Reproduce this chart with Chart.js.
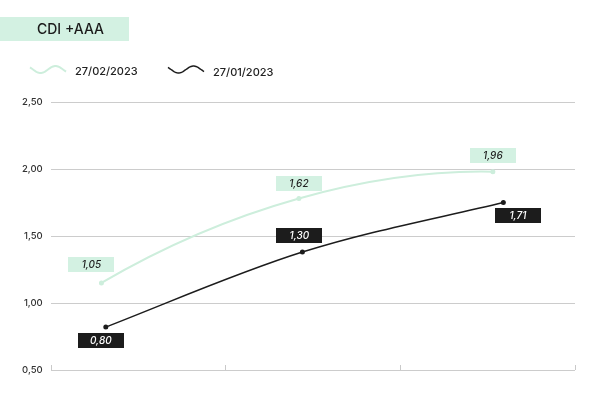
<!DOCTYPE html>
<html>
<head>
<meta charset="utf-8">
<script src="https://cdn.jsdelivr.net/npm/chart.js@4.4.0/dist/chart.umd.min.js"></script>
<style>
  html, body { margin: 0; padding: 0; background: #fff; }
  #wrap { width: 591px; height: 394px; }
</style>
</head>
<body>
<div id="wrap"><canvas id="chart" width="591" height="394"></canvas></div>
<script>
// Chart data
const chartTitle = 'CDI +AAA';
const seriesNames = ['27/02/2023', '27/01/2023'];

const febX = [0.29, 1.42, 2.53];
const febY = [1.15, 1.78, 1.98];
const febLabels = ['1,05', '1,62', '1,96'];

const janX = [0.315, 1.44, 2.59];
const janY = [0.82, 1.38, 1.75];
const janLabels = ['0,80', '1,30', '1,71'];

const yTicks = [0.5, 1, 1.5, 2, 2.5];
const yTickLabels = ['0,50', '1,00', '1,50', '2,00', '2,50'];

// styling
const MINT = '#d3f1e2';
const MINT_LINE = '#cdeedc';
const INK = '#1c1c1c';
const FONT = 'Inter, "Liberation Sans", sans-serif';

// label box offsets from their point (px), per series
const labelOffsets = [
  [[-10, -18], [0, -15], [0, -16.5]],
  [[-5, 13.5], [-3, -16.5], [14.5, 13]]
];

// Title badge + legend with wavy line icons
const headerPlugin = {
  id: 'header',
  afterDraw(chart) {
    const ctx = chart.ctx;
    ctx.save();
    ctx.fillStyle = MINT;
    ctx.fillRect(0, 17, 129, 24);
    ctx.fillStyle = '#1a1a1a';
    ctx.font = '500 14px ' + FONT;
    ctx.textBaseline = 'middle';
    ctx.textAlign = 'left';
    ctx.fillText(chartTitle, 37, 30);

    const items = [
      { x: 30, cy: 69.5, ty: 71.5, tx: 75 },
      { x: 168, cy: 69.5, ty: 73, tx: 213 }
    ];
    chart.data.datasets.forEach((ds, i) => {
      const it = items[i];
      ctx.strokeStyle = ds.borderColor;
      ctx.lineWidth = ds.borderWidth;
      ctx.beginPath();
      for (let k = 0; k <= 36; k++) {
        const t = -0.1 + 1.2 * k / 36;
        const px = it.x + k;
        const py = it.cy + 3.5 * Math.sin(2 * Math.PI * t);
        if (k === 0) ctx.moveTo(px, py); else ctx.lineTo(px, py);
      }
      ctx.stroke();
      ctx.fillStyle = '#222';
      ctx.font = '500 11px ' + FONT;
      ctx.fillText(ds.label, it.tx, it.ty);
    });
    ctx.restore();
  }
};

// Bend the curves a bit more than the built-in spline does:
// tangents are chord averages, end tangents pushed by ds.endBend
const curvePlugin = {
  id: 'curve',
  beforeDatasetDraw(chart, args) {
    const meta = args.meta;
    const ds = chart.data.datasets[args.index];
    const line = meta.dataset;
    const pts = meta.data;
    if (!line || pts.length < 3) return;
    line.updateControlPoints(chart.chartArea, meta.indexAxis);
    const n = pts.length;
    const h = [], s = [];
    for (let i = 0; i < n - 1; i++) {
      h.push(pts[i + 1].x - pts[i].x);
      s.push((pts[i + 1].y - pts[i].y) / h[i]);
    }
    const k = ds.endBend || 0;
    const m = [];
    m[0] = s[0] + k * (s[0] - s[1]);
    for (let i = 1; i < n - 1; i++) {
      m[i] = (s[i - 1] * h[i] + s[i] * h[i - 1]) / (h[i - 1] + h[i]);
    }
    m[n - 1] = s[n - 2] + k * (s[n - 2] - s[n - 3]);
    pts.forEach((p, i) => {
      if (i > 0) { p.cp1x = p.x - h[i - 1] / 3; p.cp1y = p.y - m[i] * h[i - 1] / 3; }
      if (i < n - 1) { p.cp2x = p.x + h[i] / 3; p.cp2y = p.y + m[i] * h[i] / 3; }
    });
    line._path = undefined;
  }
};

// Small tick marks rising from the bottom line
const axisTicksPlugin = {
  id: 'axisTicks',
  afterDraw(chart) {
    const ctx = chart.ctx;
    const xs = chart.scales.x;
    const bottom = chart.chartArea.bottom;
    ctx.save();
    ctx.strokeStyle = '#c9c9c9';
    ctx.lineWidth = 1;
    xs.ticks.forEach((tk) => {
      const px = Math.round(xs.getPixelForValue(tk.value)) + 0.5;
      ctx.beginPath();
      ctx.moveTo(px, bottom);
      ctx.lineTo(px, bottom - 5);
      ctx.stroke();
    });
    ctx.restore();
  }
};

// Value boxes next to each point
const valueBoxPlugin = {
  id: 'valueBoxes',
  afterDatasetsDraw(chart) {
    const ctx = chart.ctx;
    ctx.save();
    ctx.font = 'italic 500 10px ' + FONT;
    ctx.textAlign = 'center';
    ctx.textBaseline = 'middle';
    chart.data.datasets.forEach((ds, i) => {
      const meta = chart.getDatasetMeta(i);
      meta.data.forEach((pt, j) => {
        const off = labelOffsets[i][j];
        const cx = pt.x + off[0];
        const cy = pt.y + off[1];
        ctx.fillStyle = ds.boxColor;
        ctx.fillRect(Math.round(cx - 23), Math.round(cy - 7.5), 46, 15);
        ctx.fillStyle = ds.boxText;
        ctx.fillText(ds.valueLabels[j], cx, cy + 0.5);
      });
    });
    ctx.restore();
  }
};

const febData = febX.map((x, i) => ({ x: x, y: febY[i] }));
const janData = janX.map((x, i) => ({ x: x, y: janY[i] }));

new Chart(document.getElementById('chart'), {
  type: 'line',
  data: {
    datasets: [
      {
        label: seriesNames[0],
        data: febData,
        valueLabels: febLabels,
        boxColor: MINT,
        boxText: '#222',
        endBend: 0.55,
        borderColor: MINT_LINE,
        backgroundColor: MINT_LINE,
        borderWidth: 2,
        pointRadius: 2.5,
        pointBorderWidth: 0,
        cubicInterpolationMode: 'monotone',
        clip: false
      },
      {
        label: seriesNames[1],
        data: janData,
        valueLabels: janLabels,
        boxColor: INK,
        boxText: '#fff',
        endBend: 0.05,
        borderColor: INK,
        backgroundColor: INK,
        borderWidth: 1.5,
        pointRadius: 2.5,
        pointBorderWidth: 0,
        cubicInterpolationMode: 'monotone',
        clip: false
      }
    ]
  },
  options: {
    responsive: false,
    animation: false,
    devicePixelRatio: 1,
    layout: { padding: { top: 102, left: 14, right: 16, bottom: 16 } },
    plugins: {
      legend: { display: false },
      tooltip: { enabled: false }
    },
    scales: {
      x: {
        type: 'linear',
        min: 0,
        max: 3,
        ticks: { display: false, stepSize: 1 },
        grid: { display: false },
        border: { display: false }
      },
      y: {
        min: 0.5,
        max: 2.5,
        afterBuildTicks: (scale) => { scale.ticks = yTicks.map((v) => ({ value: v })); },
        ticks: {
          padding: 8,
          color: '#333',
          font: { family: FONT, size: 9.5, weight: '500' },
          callback: (v) => yTickLabels[yTicks.indexOf(v)]
        },
        grid: { color: '#cccccc', lineWidth: 1, drawTicks: false },
        border: { display: false }
      }
    }
  },
  plugins: [headerPlugin, curvePlugin, axisTicksPlugin, valueBoxPlugin]
});
</script>
</body>
</html>
